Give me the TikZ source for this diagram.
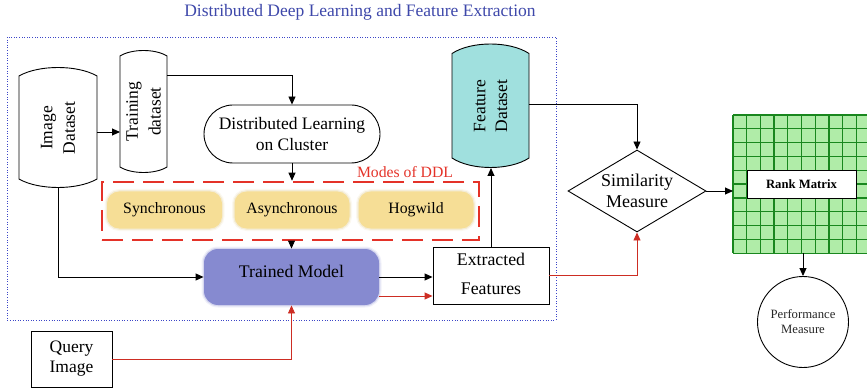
\documentclass[tikz,border=0pt]{standalone}
\usepackage{fontspec}
\setmainfont{Liberation Serif}
\usetikzlibrary{arrows.meta,shapes.geometric,calc}

\definecolor{titleblue}{RGB}{62,72,170}
\definecolor{frameblue}{RGB}{60,70,200}
\definecolor{dashred}{RGB}{228,50,40}
\definecolor{linered}{RGB}{205,45,35}
\definecolor{modeyellow}{RGB}{246,222,150}
\definecolor{modelpurple}{RGB}{134,138,208}
\definecolor{featcyan}{RGB}{160,224,222}
\definecolor{gridfill}{RGB}{176,236,168}
\definecolor{gridline}{RGB}{25,135,30}

% drum outline: style, left, right, top corner y, bottom corner y, bulge
\newcommand{\drumshape}[6]{%
  \path[#1] (#2,#4)
    .. controls ({#2+0.25*(#3-#2)},{#4-1.333*#6}) and ({#3-0.25*(#3-#2)},{#4-1.333*#6}) .. (#3,#4)
    -- (#3,#5)
    .. controls ({#3-0.25*(#3-#2)},{#5+1.333*#6}) and ({#2+0.25*(#3-#2)},{#5+1.333*#6}) .. (#2,#5)
    -- cycle;}

\newcommand{\fbig}{\fontsize{17.5}{21}\selectfont}

\begin{document}
\begin{tikzpicture}[x=1pt,y=-1pt,
  line width=0.9pt,
  arr/.style={draw=black, line width=0.9pt, -{Triangle[length=8pt,width=7pt]}},
  rarr/.style={draw=linered, line width=0.9pt, -{Triangle[length=8pt,width=7pt]}, color=linered},
  hold/.style={draw=none, inner sep=0pt, outer sep=0pt},
  plainbox/.style={draw=black, line width=0.9pt, fill=white, inner sep=0pt, align=center, font=\fbig},
  softedge/.style={preaction={draw=#1, line width=5pt, opacity=0.12},
                   preaction={draw=#1, line width=2.5pt, opacity=0.25}},
  modebox/.style={fill=modeyellow, rounded corners=12pt, minimum width=115pt, minimum height=37pt,
     inner sep=0pt, font=\fontsize{15.8}{19}\selectfont, softedge=modeyellow!90!black},
]
\useasboundingbox (0,0) rectangle (867,390);

% title and dotted frame
\node[font=\fontsize{17.5}{21}\selectfont, text=titleblue] (title) at (360,12) {Distributed Deep Learning and Feature Extraction};
\draw[frameblue, line width=0.8pt, dash pattern=on 1pt off 1.6pt] (7,37) rectangle (556,320);

% image dataset
\drumshape{draw=black, fill=white, line width=0.9pt}{19}{97}{76}{179}{8.5}
\node[hold, minimum width=78pt, minimum height=120pt] (imgds) at (58,128) {};
\node[rotate=90, align=center, font=\fontsize{17.5}{22.7}\selectfont] (imgtxt) at (imgds.center) {Image\\Dataset};

% training dataset
\drumshape{draw=black, fill=white, line width=0.9pt}{120}{167}{56}{167}{5.5}
\node[hold, minimum width=47pt, minimum height=122pt] (train) at (143.5,111.5) {};
\node[rotate=90, align=center, font=\fontsize{17.5}{22.7}\selectfont] (traintxt) at (train.center) {Training\\dataset};

% distributed learning
\node[plainbox, rounded corners=29pt, minimum width=176pt, minimum height=58pt,
      font=\fontsize{17.5}{20.7}\selectfont] (dlc) at (292,134) {Distributed Learning\\on Cluster};

% modes of DDL
\node[draw=dashred, line width=2.6pt, dash pattern=on 21pt off 9pt, minimum width=377pt, minimum height=58pt, inner sep=0pt] (modes) at (290.5,211) {};
\node[text=dashred, font=\fontsize{15.7}{19}\selectfont] (modeslbl) at (405,172) {Modes of DDL};
\node[modebox] (sync) at (164.5,210) {Synchronous};
\node[modebox] (async) at (292,210) {Asynchronous};
\node[modebox] (hog) at (416,210) {Hogwild};

% trained model
\node[fill=modelpurple, rounded corners=14pt, minimum width=175pt, minimum height=56pt, inner sep=0pt,
      softedge=modelpurple] (trained) at (291.5,277) {};
\node[font=\fontsize{17.7}{21}\selectfont] (trainedtxt) at ([yshift=6pt]trained.center) {Trained Model};

% query image
\node[plainbox, minimum width=81pt, minimum height=56pt, font=\fontsize{17.5}{20}\selectfont] (query) at (71.5,359) {Query\\Image};

% extracted features
\node[plainbox, minimum width=116pt, minimum height=57pt] (extracted) at (491,275.5) {};
\node[align=center, font=\fontsize{17.8}{29}\selectfont] (extxt) at ([yshift=2pt]extracted.center) {Extracted\\Features};

% feature dataset
\drumshape{draw=black, fill=featcyan, line width=0.9pt}{452}{529}{53.5}{158}{9.5}
\node[hold, minimum width=77pt, minimum height=124pt] (featds) at (490.5,106) {};
\node[rotate=90, align=center, font=\fontsize{17.5}{21.7}\selectfont] (feattxt) at (featds.center) {Feature\\Dataset};

% similarity measure
\node[draw=black, line width=0.9pt, diamond, aspect=1.68, inner sep=0pt, minimum width=138pt, minimum height=82pt,
      align=center, font=\fontsize{18}{21}\selectfont] (sim) at (637,191) {Similarity\\Measure};

% rank matrix grid
\node[hold, minimum width=137pt, minimum height=138.3pt, anchor=north west] (grid) at (733,115) {};
\fill[gridfill] (733,115) rectangle (867,253.3);
\foreach \i in {0,...,9} \draw[gridline, line width=1.3pt] ({733+13.7*\i},115) -- ({733+13.7*\i},253.3);
\foreach \j in {0,...,10} \draw[gridline, line width=1.3pt] (733,{115+13.83*\j}) -- (867,{115+13.83*\j});
\node[draw=black, line width=0.9pt, fill=white, minimum width=109pt, minimum height=28pt, inner sep=0pt,
      font=\fontsize{12.7}{15}\selectfont\bfseries] (rank) at (801.5,184) {Rank Matrix};

% performance measure
\node[draw=black, line width=0.9pt, circle, minimum size=91pt, inner sep=0pt, align=center,
      font=\fontsize{12.7}{15}\selectfont, text=black!85] (perf) at (803,322) {Performance\\Measure};

% connectors
\coordinate (i1) at ($(imgds.east)+(0,4)$);
\draw[arr] (i1) -- (i1 -| train.west);
\coordinate (t1) at ($(train.north east)+(0,25)$);
\draw[arr] (t1) -| (dlc.north);
\draw[arr] (dlc.south) -- (modes.north -| dlc.south);
\draw[arr] (modes.south -| trained.north) -- (trained.north);
\draw[arr] (imgds.south) |- (trained.west);
\draw[arr] (trained.east) -- (trained.east -| extracted.west);
\coordinate (t2) at ($(trained.east)+(0,19)$);
\draw[rarr] (t2) -- (t2 -| extracted.west);
\draw[rarr] (query.east) -| (trained.south);
\draw[arr] (extracted.north) -- (extracted.north |- featds.south);
\coordinate (f1) at ($(featds.east)+(0,-2)$);
\draw[arr] (f1) -| (sim.north);
\draw[rarr] (extracted.east) -| (sim.south);
\draw[arr] (sim.east) -- (sim.east -| grid.west);
\draw[arr] (grid.south -| perf.north) -- (perf.north);
\end{tikzpicture}
\end{document}
